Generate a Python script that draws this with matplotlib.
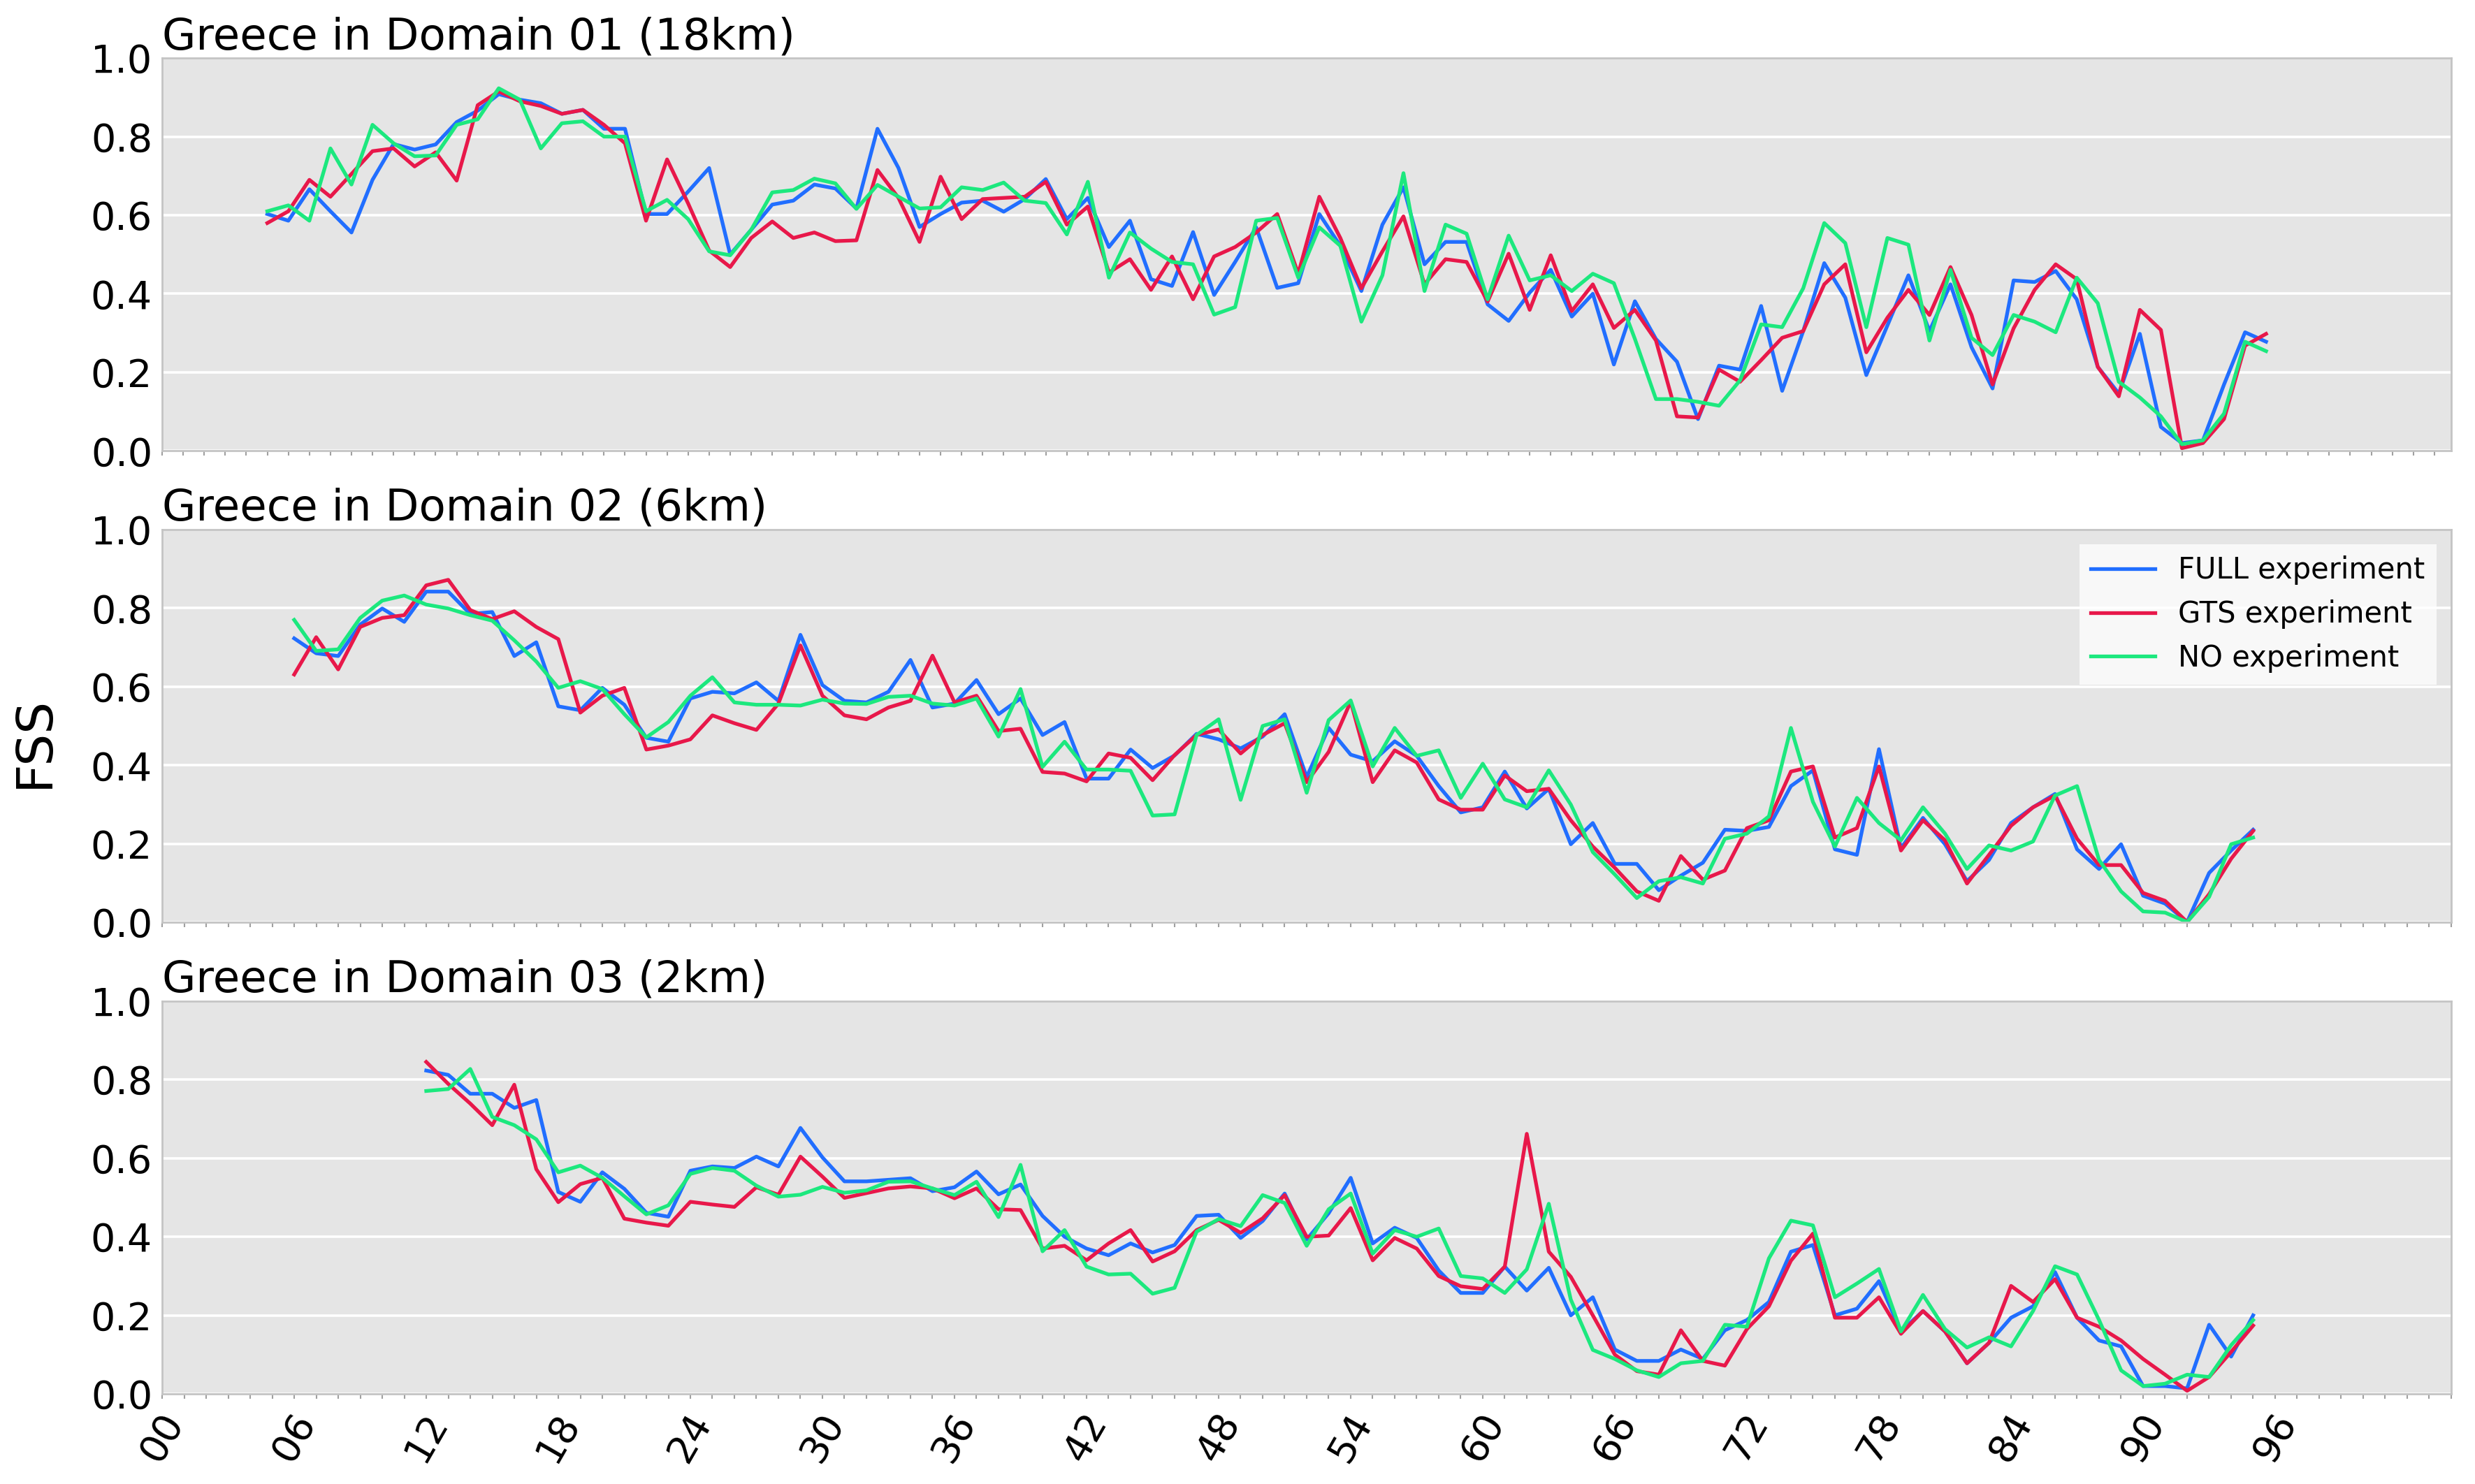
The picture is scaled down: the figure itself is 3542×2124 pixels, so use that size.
import matplotlib.pyplot as plt
import numpy as np
from matplotlib.ticker import MultipleLocator, FixedLocator

# forecast hours of each domain
hours_d01 = np.arange(5, 101)
hours_d02 = np.arange(6, 96)
hours_d03 = np.arange(12, 96)

full_d01 = [0.603, 0.586, 0.666, 0.61, 0.556, 0.69, 0.781, 0.767, 0.78, 0.837, 0.866, 0.908, 0.894, 0.885, 0.858, 0.868,
            0.82, 0.82, 0.603, 0.603, 0.66, 0.72, 0.50, 0.563, 0.627, 0.637, 0.678, 0.668, 0.617, 0.82, 0.72, 0.57,
            0.603, 0.632, 0.637, 0.609, 0.641, 0.692, 0.59, 0.644, 0.519, 0.586, 0.437, 0.42, 0.557, 0.397, 0.481, 0.569,
            0.415, 0.427, 0.603, 0.522, 0.407, 0.576, 0.671, 0.475, 0.532, 0.532, 0.373, 0.331, 0.403, 0.461, 0.342,
            0.40, 0.22, 0.381, 0.285, 0.227, 0.081, 0.217, 0.207, 0.369, 0.153, 0.305, 0.478, 0.39, 0.193, 0.319, 0.447,
            0.305, 0.424, 0.264, 0.159, 0.434, 0.43, 0.458, 0.386, 0.214, 0.146, 0.298, 0.061, 0.02, 0.027, 0.169, 0.302,
            0.278]
gts_d01 = [0.58, 0.61, 0.69, 0.647, 0.705, 0.763, 0.77, 0.724, 0.76, 0.688, 0.88, 0.915, 0.89, 0.878, 0.858, 0.868,
           0.83, 0.783, 0.586, 0.742, 0.63, 0.51, 0.468, 0.542, 0.584, 0.542, 0.556, 0.534, 0.536, 0.715, 0.644, 0.532,
           0.698, 0.59, 0.641, 0.644, 0.647, 0.685, 0.576, 0.622, 0.454, 0.488, 0.41, 0.495, 0.386, 0.495, 0.519, 0.556,
           0.603, 0.451, 0.647, 0.542, 0.414, 0.508, 0.597, 0.424, 0.488, 0.481, 0.38, 0.502, 0.359, 0.498, 0.356,
           0.424, 0.313, 0.359, 0.281, 0.088, 0.085, 0.207, 0.176, 0.231, 0.288, 0.305, 0.424, 0.475, 0.251, 0.339, 0.41,
           0.346, 0.468, 0.346, 0.169, 0.312, 0.41, 0.475, 0.437, 0.214, 0.139, 0.359, 0.308, 0.007, 0.02, 0.081, 0.268,
           0.298]
no_d01 = [0.61, 0.625, 0.586, 0.77, 0.678, 0.83, 0.783, 0.75, 0.752, 0.83, 0.844, 0.923, 0.894, 0.77, 0.834, 0.839,
          0.80, 0.80, 0.61, 0.639, 0.59, 0.508, 0.498, 0.563, 0.658, 0.664, 0.693, 0.681, 0.616, 0.677, 0.647, 0.617,
          0.62, 0.671, 0.664, 0.683, 0.637, 0.631, 0.551, 0.685, 0.441, 0.556, 0.515, 0.481, 0.475, 0.347, 0.366, 0.586,
          0.593, 0.441, 0.569, 0.522, 0.329, 0.447, 0.707, 0.407, 0.576, 0.553, 0.386, 0.548, 0.434, 0.447, 0.407,
          0.451, 0.427, 0.285, 0.132, 0.132, 0.125, 0.115, 0.18, 0.322, 0.315, 0.414, 0.58, 0.529, 0.315, 0.542, 0.525,
          0.281, 0.461, 0.288, 0.244, 0.346, 0.329, 0.302, 0.441, 0.376, 0.176, 0.136, 0.088, 0.017, 0.027, 0.095, 0.278,
          0.254]

full_d02 = [0.723, 0.685, 0.678, 0.758, 0.799, 0.765, 0.842, 0.842, 0.785, 0.79, 0.678, 0.713, 0.55, 0.54, 0.597, 0.554,
            0.47, 0.46, 0.57, 0.587, 0.583, 0.611, 0.564, 0.732, 0.604, 0.564, 0.56, 0.587, 0.668, 0.547, 0.557, 0.617,
            0.53, 0.57, 0.477, 0.51, 0.366, 0.366, 0.44, 0.393, 0.425, 0.48, 0.466, 0.443, 0.473, 0.53,
            0.37, 0.495, 0.427, 0.41, 0.461, 0.424, 0.347, 0.28, 0.293, 0.384, 0.29, 0.34, 0.199, 0.253, 0.149, 0.149,
            0.082, 0.119, 0.152, 0.236, 0.233, 0.243, 0.347, 0.387, 0.186, 0.172, 0.441, 0.189, 0.266, 0.199, 0.105, 0.159,
            0.253, 0.293, 0.327, 0.186, 0.136, 0.199, 0.068, 0.048, 0.001, 0.126, 0.183, 0.236]
gts_d02 = [0.631, 0.726, 0.644, 0.752, 0.775, 0.782, 0.858, 0.872, 0.795, 0.772, 0.792, 0.752, 0.721, 0.534, 0.577, 0.597,
           0.44, 0.45, 0.466, 0.527, 0.507, 0.49, 0.557, 0.705, 0.577, 0.527, 0.517, 0.547, 0.564, 0.679, 0.56, 0.577,
           0.487, 0.493, 0.383, 0.379, 0.359, 0.43, 0.419, 0.362, 0.426, 0.477, 0.491, 0.43, 0.477, 0.507,
           0.357, 0.434, 0.562, 0.357, 0.438, 0.407, 0.313, 0.287, 0.287, 0.374, 0.334, 0.34, 0.26, 0.193, 0.139, 0.079,
           0.055, 0.169, 0.109, 0.132, 0.24, 0.26, 0.384, 0.397, 0.216, 0.24, 0.397, 0.183, 0.26, 0.209, 0.099, 0.172,
           0.246, 0.293, 0.323, 0.213, 0.146, 0.146, 0.075, 0.055, 0.001, 0.072, 0.162, 0.233]
no_d02 = [0.77, 0.691, 0.695, 0.775, 0.819, 0.832, 0.809, 0.799, 0.782, 0.768, 0.718, 0.664, 0.597, 0.614, 0.594, 0.53,
          0.471, 0.51, 0.577, 0.624, 0.56, 0.554, 0.554, 0.552, 0.567, 0.557, 0.556, 0.574, 0.577, 0.557, 0.552, 0.57,
          0.473, 0.594, 0.396, 0.46, 0.389, 0.389, 0.386, 0.272, 0.275, 0.477, 0.517, 0.312, 0.5, 0.517,
          0.33, 0.515, 0.565, 0.397, 0.495, 0.424, 0.438, 0.317, 0.404, 0.313, 0.293, 0.387, 0.3, 0.179, 0.122, 0.062,
          0.105, 0.115, 0.099, 0.213, 0.226, 0.27, 0.495, 0.307, 0.193, 0.317, 0.253, 0.209, 0.293, 0.226, 0.136, 0.196,
          0.183, 0.206, 0.323, 0.347, 0.159, 0.079, 0.028, 0.025, 0.001, 0.065, 0.199, 0.216]

full_d03 = [0.823, 0.812, 0.764, 0.764, 0.728, 0.748, 0.514, 0.489, 0.564, 0.522, 0.461, 0.451, 0.568, 0.579, 0.575,
            0.604, 0.579, 0.677, 0.602, 0.541, 0.541,
            0.545, 0.549, 0.516, 0.526, 0.566, 0.508, 0.533, 0.453, 0.40, 0.37, 0.353, 0.383, 0.36, 0.379, 0.453, 0.456,
            0.397, 0.44, 0.51, 0.393, 0.46, 0.55, 0.383, 0.423, 0.397, 0.314, 0.257, 0.257, 0.324,
            0.263, 0.321, 0.20, 0.246, 0.113, 0.084, 0.084, 0.113, 0.089, 0.162, 0.188, 0.234, 0.362, 0.379, 0.20, 0.217,
            0.287, 0.159, 0.211, 0.159, 0.078, 0.13, 0.194, 0.223, 0.31, 0.194, 0.136, 0.121, 0.02, 0.02, 0.014, 0.176,
            0.095, 0.20]
gts_d03 = [0.845, 0.789, 0.739, 0.684, 0.787, 0.572, 0.488, 0.534, 0.55, 0.446, 0.436, 0.428, 0.489, 0.482, 0.476,
           0.526, 0.507, 0.604, 0.553, 0.499, 0.511,
           0.523, 0.528, 0.523, 0.498, 0.523, 0.47, 0.468, 0.37, 0.377, 0.34, 0.383, 0.417, 0.337, 0.363, 0.417, 0.443,
           0.41, 0.447, 0.506, 0.40, 0.403, 0.473, 0.34, 0.397, 0.37, 0.30, 0.274, 0.267, 0.324,
           0.662, 0.362, 0.298, 0.20, 0.10, 0.058, 0.049, 0.162, 0.084, 0.072, 0.165, 0.223, 0.339, 0.408, 0.194, 0.194,
           0.246, 0.153, 0.211, 0.159, 0.078, 0.13, 0.275, 0.234, 0.292, 0.194, 0.171, 0.136, 0.089, 0.049, 0.008, 0.043,
           0.107, 0.174]
no_d03 = [0.771, 0.776, 0.827, 0.705, 0.684, 0.648, 0.564, 0.581, 0.55, 0.503, 0.457, 0.48, 0.56, 0.575, 0.568,
          0.53, 0.502, 0.507, 0.527, 0.512, 0.518,
          0.54, 0.541, 0.523, 0.506, 0.54, 0.45, 0.583, 0.363, 0.417, 0.324, 0.304, 0.306, 0.255, 0.27, 0.413, 0.445,
          0.427, 0.506, 0.486, 0.377, 0.47, 0.51, 0.357, 0.417, 0.40, 0.421, 0.30, 0.294, 0.257,
          0.317, 0.484, 0.24, 0.112, 0.089, 0.06, 0.043, 0.078, 0.084, 0.176, 0.171, 0.345, 0.441, 0.429, 0.246, 0.281,
          0.318, 0.159, 0.252, 0.165, 0.118, 0.144, 0.121, 0.211, 0.325, 0.304, 0.188, 0.06, 0.02, 0.026, 0.049, 0.043,
          0.124, 0.188]

titles = ['Greece in Domain 01 (18km)', 'Greece in Domain 02 (6km)', 'Greece in Domain 03 (2km)']
labels = ['FULL experiment', 'GTS experiment', 'NO experiment']
colors = ['#216eff', '#e8184a', '#1ce87e']
xticks = np.arange(0, 97, 6)
xticklabels = ['%02d' % h for h in xticks]

panels = [(hours_d01, [full_d01, gts_d01, no_d01], 108.8),
          (hours_d02, [full_d02, gts_d02, no_d02], 104),
          (hours_d03, [full_d03, gts_d03, no_d03], 104)]

fig, axes = plt.subplots(3, 1, figsize=(35.42, 21.24), dpi=100)
fig.subplots_adjust(left=0.0655, right=0.9904, top=0.9609, bottom=0.0607, hspace=0.2)

for i, (ax, (hours, series, xmax)) in enumerate(zip(axes, panels)):
    ax.set_facecolor('#e5e5e5')
    for vals, lab, col in zip(series, labels, colors):
        ax.plot(hours, vals, color=col, lw=3.8, label=lab)
    ax.set_xlim(0, xmax)
    ax.set_ylim(0, 1)
    ax.set_yticks(np.arange(0, 1.01, 0.2))
    ax.set_yticklabels(['%.1f' % v for v in np.arange(0, 1.01, 0.2)])
    ax.yaxis.grid(True, color='white', lw=2.6)
    ax.set_axisbelow(True)
    ax.xaxis.set_minor_locator(MultipleLocator(1))
    if i == 2:
        ax.xaxis.set_major_locator(FixedLocator(xticks))
        ax.set_xticklabels(xticklabels, rotation=60, ha='center')
    else:
        ax.xaxis.set_major_locator(FixedLocator([]))
    ax.tick_params(axis='x', which='both', direction='out', length=5, width=1.5,
                   color='#a0a0a0', labelsize=40, pad=8)
    ax.tick_params(axis='y', length=0, labelsize=40, pad=10)
    for sp in ax.spines.values():
        sp.set_color('#c4c4c4')
        sp.set_linewidth(2)
    ax.set_title(titles[i], loc='left', fontsize=45, pad=6)

leg = axes[1].legend(loc='upper right', fontsize=30, handlelength=2.2, borderaxespad=0.5,
                     facecolor='white', framealpha=0.75, edgecolor='none', fancybox=False)

fig.text(0.014, 0.5, 'FSS', rotation=90, va='center', ha='center', fontsize=52)

fig.savefig('out.png', dpi=100)
